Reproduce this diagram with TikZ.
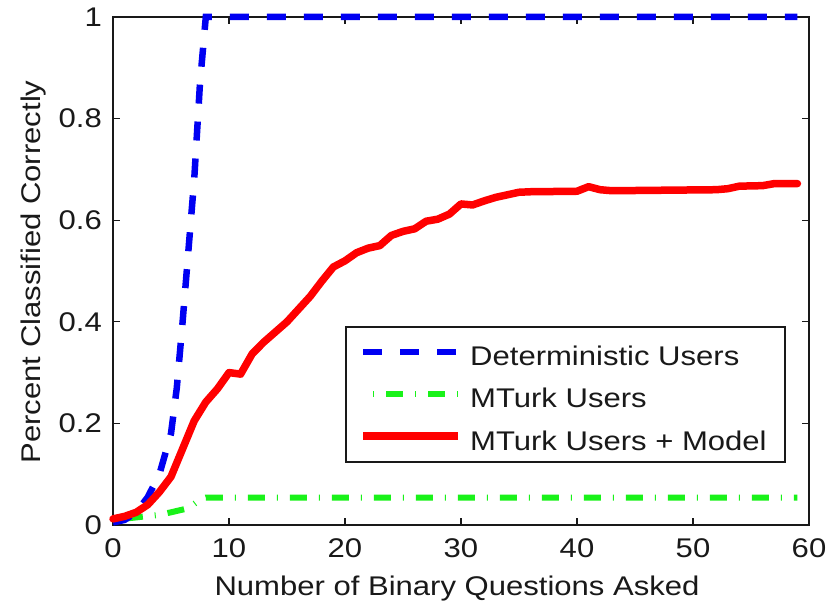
\documentclass[tikz,border=0pt]{standalone}
\usepackage{fontspec}
\setmainfont[FakeStretch=1.15]{Liberation Sans}
\definecolor{cblue}{rgb}{0,0,0.95}
\definecolor{cgreen}{rgb}{0.1,0.95,0.1}
\definecolor{cred}{rgb}{1,0,0}
\definecolor{ctext}{gray}{0.1}
\tikzset{
  lbl/.style={inner sep=0pt, text=ctext, font=\fontsize{27}{30}\selectfont},
  frame/.style={line width=1.8pt, draw=ctext},
  tickmark/.style={line width=1.2pt, draw=ctext},
  detline/.style={draw=cblue, line width=6.5pt, dash pattern=on 19pt off 18pt},
  mtline/.style={draw=cgreen, line width=6pt, dash pattern=on 1pt off 12pt on 17pt off 12pt},
  modline/.style={draw=cred, line width=7.5pt, line join=round, line cap=round},
}
\begin{document}
\begin{tikzpicture}[x=1pt,y=-1pt]
\useasboundingbox (0,0) rectangle (830,601);
\fill[white] (0,0) rectangle (830,601);
% frame
\draw[frame] (113,17) rectangle (809,525);
% ticks
\foreach \i in {0,...,6}{
  \pgfmathsetmacro\xx{113+116*\i}
  \draw[tickmark] (\xx,525) -- (\xx,518);
  \draw[tickmark] (\xx,17) -- (\xx,24);
  \pgfmathtruncatemacro\lab{10*\i}
  \node[lbl, anchor=north] (xt\i) at (\xx,538) {\lab};
}
\foreach \v/\t in {0/0,1/0.2,2/0.4,3/0.6,4/0.8,5/1}{
  \pgfmathsetmacro\yy{525-101.6*\v}
  \draw[tickmark] (113,\yy) -- (120,\yy);
  \draw[tickmark] (809,\yy) -- (802,\yy);
  \node[lbl, anchor=east] (yt\v) at (102,\yy) {\t};
}
\node[lbl, anchor=base] (xlabel) at (457,595) {Number of Binary Questions Asked};
\node[lbl, anchor=base, rotate=90] (ylabel) at (40,272) {Percent Classified Correctly};
% data
\begin{scope}[shift={(113pt,-525pt)}, x=11.6pt, y=508pt]
\draw[mtline] (0,0.01) -- (2,0.015) -- (4,0.02) -- (5,0.025) -- (6.5,0.033) -- (7.5,0.05) -- (8,0.054) -- (59,0.054);
\draw[detline] (0,0.005) -- (1,0.01) -- (2,0.025) -- (3,0.055) -- (4,0.1) -- (5,0.18) -- (5.5,0.27) -- (6,0.4) -- (6.5,0.54) -- (7,0.68) -- (7.5,0.87) -- (8,1) -- (59,1);
\draw[modline] (0,0.012) -- (1,0.017) -- (2,0.025) -- (3,0.04) -- (4,0.065) -- (5,0.095) -- (6,0.15) -- (7,0.205) -- (8,0.242) -- (9,0.268) -- (10,0.3) -- (11,0.297) -- (12,0.337) -- (13,0.36) -- (14,0.38) -- (15,0.4) -- (16,0.425) -- (17,0.45) -- (18,0.48) -- (19,0.508) -- (20,0.52) -- (21,0.536) -- (22,0.545) -- (23,0.55) -- (24,0.57) -- (25,0.578) -- (26,0.583) -- (27,0.598) -- (28,0.602) -- (29,0.612) -- (30,0.632) -- (31,0.63) -- (32,0.638) -- (33,0.645) -- (34,0.65) -- (35,0.655) -- (36,0.656) -- (40,0.657) -- (41,0.666) -- (42,0.66) -- (43,0.658) -- (52,0.66) -- (53,0.662) -- (54,0.667) -- (56,0.668) -- (57,0.672) -- (59,0.672);
\end{scope}
% legend
\draw[line width=1.5pt, draw=ctext, fill=white] (346,327) rectangle (785,462);
\coordinate (l1a) at (363,352); \coordinate (l1b) at (458,352);
\coordinate (l2a) at (373,394); \coordinate (l2b) at (458,394);
\coordinate (l3a) at (363,436); \coordinate (l3b) at (458,436);
\draw[detline] (l1a) -- (l1b);
\draw[mtline] (l2a) -- (l2b);
\draw[modline, line cap=butt] (l3a) -- (l3b);
\node[lbl, anchor=base west] (t1) at (470,366) {Deterministic Users};
\node[lbl, anchor=base west] (t2) at (470,408) {MTurk Users};
\node[lbl, anchor=base west] (t3) at (470,450) {MTurk Users + Model};
\end{tikzpicture}
\end{document}
